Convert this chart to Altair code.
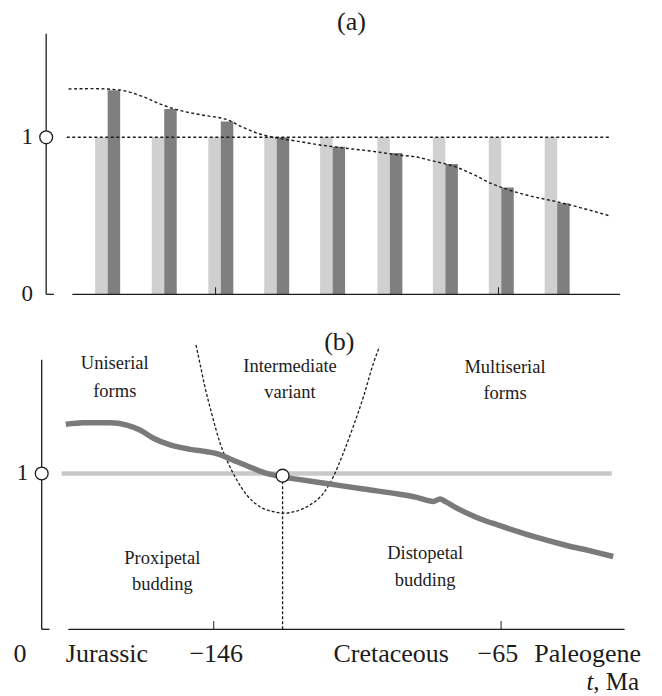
import altair as alt
import pandas as pd

# ---------------- data ----------------
# time axis (Ma), shared by both panels
T_DOMAIN = [-204.0, -21.9]
TICKS_MA = [-146, -65]

# panel (a): pairs of bars (light = reference level 1, dark = observed ratio)
pair_t = [-176.9, -160.7, -144.5, -128.5, -112.5, -96.1, -80.2, -64.2, -48.2]
light_vals = [1.0, 1.0, 1.0, 1.0, 1.0, 1.0, 1.0, 1.0, 1.0]
dark_vals = [1.30, 1.18, 1.10, 1.0, 0.94, 0.90, 0.83, 0.68, 0.58]

# panel (a): dashed envelope curve
trend_a_t = [-188.1, -180.9, -173.4, -166.8, -161.2, -157.4, -149.9, -142.4, -138.6,
             -133.9, -130.1, -121.7, -116.1, -112.3, -100.1, -93.5, -88.8, -84.1,
             -77.5, -71.9, -67.2, -63.4, -55.9, -48.4, -40.9, -33.4]
trend_a_v = [1.308, 1.310, 1.301, 1.259, 1.206, 1.178, 1.142, 1.110, 1.068,
             1.025, 1.003, 0.972, 0.951, 0.940, 0.908, 0.887, 0.876, 0.851,
             0.813, 0.760, 0.707, 0.675, 0.626, 0.590, 0.548, 0.501]
ref_a_t = [-188.6, -33.4]
ref_a_v = [1.0, 1.0]

# panel (b): thick trend line
curve_b_t = [-187.7, -182.8, -175.3, -170.5, -166.8, -163.0, -158.3, -152.7, -148.0,
             -144.7, -141.4, -136.7, -132.0, -127.3, -122.6, -113.2, -103.8, -94.0,
             -88.8, -84.1, -82.2, -80.8, -77.5, -71.9, -65.3, -55.9, -46.5, -39.0, -33.4]
curve_b_v = [1.316, 1.326, 1.326, 1.311, 1.279, 1.226, 1.183, 1.155, 1.140,
             1.125, 1.093, 1.050, 1.007, 0.981, 0.964, 0.932, 0.900, 0.868,
             0.847, 0.821, 0.837, 0.821, 0.778, 0.718, 0.665, 0.596, 0.538, 0.499, 0.467]
ref_b_t = [-188.9, -33.8]
ref_b_v = [1.0, 1.0]

# panel (b): dashed "intermediate" bowl
bowl_t = [-151.0, -149.9, -148.5, -146.6, -144.2, -141.9, -139.5, -136.7, -133.0, -129.2,
          -126.4, -122.6, -118.9, -115.1, -112.3, -109.5, -106.7, -103.8, -101.0, -99.3]
bowl_v = [1.825, 1.707, 1.557, 1.386, 1.194, 1.065, 0.958, 0.862, 0.787, 0.755,
          0.745, 0.759, 0.798, 0.873, 0.979, 1.130, 1.300, 1.493, 1.707, 1.814]
cross_t = -126.6
cross_v = 0.986

# panel (b) region labels
region_labels = ["Uniserial", "forms", "Intermediate", "variant", "Multiserial", "forms",
                 "Proxipetal", "budding", "Distopetal", "budding"]
region_t = [-173.9, -173.9, -124.5, -124.5, -63.9, -63.9, -160.5, -160.5, -86.4, -86.4]
region_v = [1.707, 1.530, 1.690, 1.521, 1.685, 1.519, 0.456, 0.289, 0.488, 0.316]

# bottom time-scale labels
time_labels = ["0", "Jurassic", "\u2212146", "Cretaceous", "\u221265", "Paleogene"]
time_label_t = [-200.6, -176.1, -145.3, -96.0, -65.9, -40.6]
time_label_v = -0.159
unit_split_t = -39.0
unit_v = -0.338

# axis extents
yaxis_t = -194.5
yaxis_end_t = -192.3
xaxis_t = [-187.0, -30.2]
axis_a_top = 1.66
axis_b_top = 1.73
label_t = -199.9

# ---------------- helpers ----------------
FONT = "Liberation Serif"
INK = "#1c1c1c"
W = 646
HA, HB = 302, 378
YA_DOMAIN = [-0.1, 1.8236]
YB_DOMAIN = [-0.3768, 2.0494]


def X(field="t"):
    return alt.X(field, type="quantitative", axis=None,
                 scale=alt.Scale(domain=T_DOMAIN, nice=False, zero=False))


def Y(field, dom):
    return alt.Y(field, type="quantitative", axis=None,
                 scale=alt.Scale(domain=dom, nice=False, zero=False))


def axes_layers(dom, top, tick_h):
    yax = alt.Chart(pd.DataFrame({"t": [yaxis_t], "v0": [0.0], "v1": [top]})).mark_rule(
        color=INK, strokeWidth=1.3).encode(x=X(), y=Y("v0", dom), y2="v1")
    foot = alt.Chart(pd.DataFrame({"t0": [yaxis_t], "t1": [yaxis_end_t], "v": [0.0]})).mark_rule(
        color=INK, strokeWidth=1.3).encode(x=X("t0"), x2="t1", y=Y("v", dom))
    xax = alt.Chart(pd.DataFrame({"t0": [xaxis_t[0]], "t1": [xaxis_t[1]], "v": [0.0]})).mark_rule(
        color=INK, strokeWidth=1.3).encode(x=X("t0"), x2="t1", y=Y("v", dom))
    ticks = alt.Chart(pd.DataFrame({"t": TICKS_MA, "v0": [0.0, 0.0], "v1": [tick_h, tick_h]})).mark_rule(
        color=INK, strokeWidth=1.0).encode(x=X(), y=Y("v0", dom), y2="v1")
    one_circle = alt.Chart(pd.DataFrame({"t": [yaxis_t], "v": [1.0]})).mark_point(
        shape="circle", filled=True, fill="white", stroke=INK, strokeWidth=1.3,
        size=165, opacity=1).encode(x=X(), y=Y("v", dom))
    one_label = alt.Chart(pd.DataFrame({"t": [label_t], "v": [1.0], "s": ["1"]})).mark_text(
        font=FONT, fontSize=23, color=INK, baseline="middle", align="center").encode(
        x=X(), y=Y("v", dom), text="s")
    return [yax, foot, xax, ticks, one_circle, one_label]


# ---------------- panel (a) ----------------
bars = pd.DataFrame({"t": pair_t, "light": light_vals, "dark": dark_vals})
light_bars = alt.Chart(bars).mark_bar(size=12.5, xOffset=-6.25, color="#d0d0d0").encode(
    x=X(), y=Y("light", YA_DOMAIN), y2=alt.datum(0))
dark_bars = alt.Chart(bars).mark_bar(size=12.5, xOffset=6.25, color="#7f7f7f").encode(
    x=X(), y=Y("dark", YA_DOMAIN), y2=alt.datum(0))
ref_a = alt.Chart(pd.DataFrame({"t": ref_a_t, "v": ref_a_v})).mark_line(
    color=INK, strokeWidth=1.4, strokeDash=[3, 2.5]).encode(x=X(), y=Y("v", YA_DOMAIN))
trend_a = alt.Chart(pd.DataFrame({"t": trend_a_t, "v": trend_a_v})).mark_line(
    color=INK, strokeWidth=1.4, strokeDash=[3, 2.5], interpolate="monotone").encode(
    x=X(), y=Y("v", YA_DOMAIN))
zero_a = alt.Chart(pd.DataFrame({"t": [label_t], "v": [0.0], "s": ["0"]})).mark_text(
    font=FONT, fontSize=23, color=INK, baseline="middle", align="center").encode(
    x=X(), y=Y("v", YA_DOMAIN), text="s")
title_a = alt.Chart(pd.DataFrame({"t": [-107.1], "v": [1.7376], "s": ["(a)"]})).mark_text(
    font=FONT, fontSize=26, color=INK, baseline="middle", align="center").encode(
    x=X(), y=Y("v", YA_DOMAIN), text="s")

panel_a = alt.layer(
    light_bars, dark_bars, ref_a, trend_a, zero_a, title_a,
    *axes_layers(YA_DOMAIN, axis_a_top, 0.045)
).properties(width=W, height=HA)

# ---------------- panel (b) ----------------
ref_b = alt.Chart(pd.DataFrame({"t": ref_b_t, "v": ref_b_v})).mark_line(
    color="#c8c8c8", strokeWidth=4.5).encode(x=X(), y=Y("v", YB_DOMAIN))
bowl = alt.Chart(pd.DataFrame({"t": bowl_t, "v": bowl_v})).mark_line(
    color=INK, strokeWidth=1.3, strokeDash=[3, 2], interpolate="monotone").encode(
    x=X(), y=Y("v", YB_DOMAIN))
vline = alt.Chart(pd.DataFrame({"t": [cross_t], "v0": [0.0], "v1": [cross_v]})).mark_rule(
    color=INK, strokeWidth=1.3, strokeDash=[3, 2]).encode(x=X(), y=Y("v0", YB_DOMAIN), y2="v1")
curve_b = alt.Chart(pd.DataFrame({"t": curve_b_t, "v": curve_b_v})).mark_line(
    color="#7a7a7a", strokeWidth=5.5, interpolate="monotone").encode(
    x=X(), y=Y("v", YB_DOMAIN))
cross_pt = alt.Chart(pd.DataFrame({"t": [cross_t], "v": [cross_v]})).mark_point(
    shape="circle", filled=True, fill="white", stroke=INK, strokeWidth=1.3,
    size=165, opacity=1).encode(x=X(), y=Y("v", YB_DOMAIN))
regions = alt.Chart(pd.DataFrame({"t": region_t, "v": region_v, "s": region_labels})).mark_text(
    font=FONT, fontSize=18.5, color=INK, baseline="middle", align="center").encode(
    x=X(), y=Y("v", YB_DOMAIN), text="s")
title_b = alt.Chart(pd.DataFrame({"t": [-110.6], "v": [1.846], "s": ["(b)"]})).mark_text(
    font=FONT, fontSize=26, color=INK, baseline="middle", align="center").encode(
    x=X(), y=Y("v", YB_DOMAIN), text="s")
tlabels = alt.Chart(pd.DataFrame({"t": time_label_t, "v": [time_label_v] * len(time_labels),
                                  "s": time_labels})).mark_text(
    font=FONT, fontSize=26, color=INK, baseline="middle", align="center").encode(
    x=X(), y=Y("v", YB_DOMAIN), text="s")
unit_t = alt.Chart(pd.DataFrame({"t": [unit_split_t], "v": [unit_v], "s": ["t"]})).mark_text(
    font=FONT, fontSize=25, fontStyle="italic", color=INK, baseline="middle", align="right").encode(
    x=X(), y=Y("v", YB_DOMAIN), text="s")
unit_rest = alt.Chart(pd.DataFrame({"t": [unit_split_t], "v": [unit_v], "s": [", Ma"]})).mark_text(
    font=FONT, fontSize=25, color=INK, baseline="middle", align="left").encode(
    x=X(), y=Y("v", YB_DOMAIN), text="s")

panel_b = alt.layer(
    ref_b, bowl, vline, curve_b, cross_pt, regions, title_b, tlabels, unit_t, unit_rest,
    *axes_layers(YB_DOMAIN, axis_b_top, 0.053)
).properties(width=W, height=HB)

chart = alt.vconcat(panel_a, panel_b, spacing=0, bounds="flush").properties(
    padding=0, background="white"
).configure_view(strokeWidth=0, stroke="transparent")

chart.save("out.html", embed_options={"renderer": "svg", "actions": False})
